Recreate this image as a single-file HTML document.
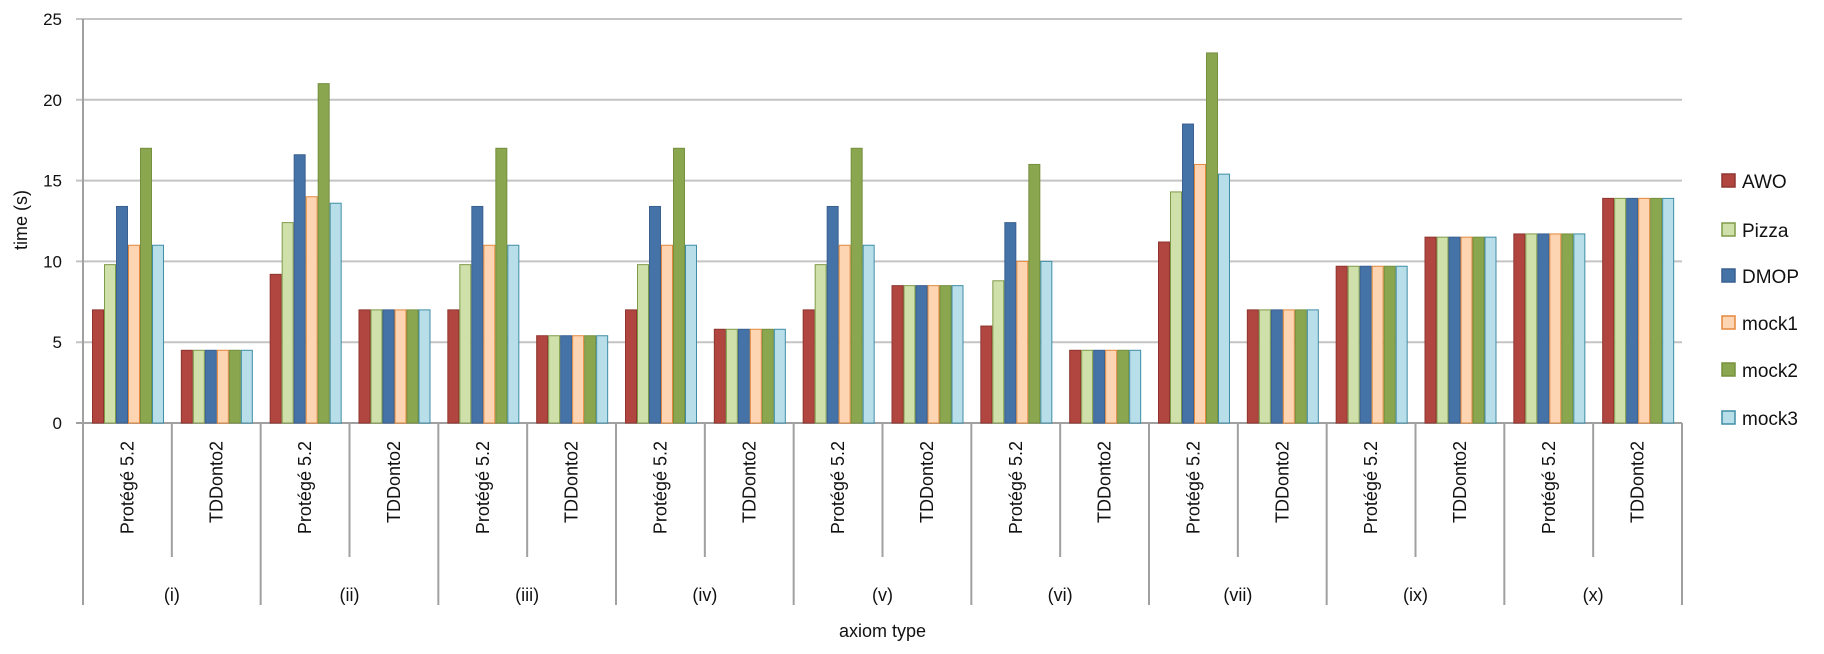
<!DOCTYPE html>
<html><head><meta charset="utf-8"><style>
body{margin:0;background:#fff}
svg text{font-family:"Liberation Sans",sans-serif;fill:#111}
</style></head><body>
<svg id="chart" width="1824" height="649" xmlns="http://www.w3.org/2000/svg"></svg>
<script>
const groups = ["(i)","(ii)","(iii)","(iv)","(v)","(vi)","(vii)","(ix)","(x)"];
const tools = ["Protégé 5.2","TDDonto2"];
const seriesNames = ["AWO","Pizza","DMOP","mock1","mock2","mock3"];
const awo   = [7,4.5, 9.2,7, 7,5.4, 7,5.8, 7,8.5, 6,4.5, 11.2,7, 9.7,11.5, 11.7,13.9];
const pizza = [9.8,4.5, 12.4,7, 9.8,5.4, 9.8,5.8, 9.8,8.5, 8.8,4.5, 14.3,7, 9.7,11.5, 11.7,13.9];
const dmop  = [13.4,4.5, 16.6,7, 13.4,5.4, 13.4,5.8, 13.4,8.5, 12.4,4.5, 18.5,7, 9.7,11.5, 11.7,13.9];
const mock1 = [11,4.5, 14,7, 11,5.4, 11,5.8, 11,8.5, 10,4.5, 16,7, 9.7,11.5, 11.7,13.9];
const mock2 = [17,4.5, 21,7, 17,5.4, 17,5.8, 17,8.5, 16,4.5, 22.9,7, 9.7,11.5, 11.7,13.9];
const mock3 = [11,4.5, 13.6,7, 11,5.4, 11,5.8, 11,8.5, 10,4.5, 15.4,7, 9.7,11.5, 11.7,13.9];
const yTicks = [0,5,10,15,20,25];

const series=[awo,pizza,dmop,mock1,mock2,mock3];
const fills=["#b0463f","#cfe0aa","#4572a7","#fdd5b2","#8aa64f","#b8dee9"];
const strokes=["#8f3530","#7f9a48","#3a6190","#e3883c","#76903f","#3f8ea6"];
const svg=document.getElementById('chart');
const NS="http://www.w3.org/2000/svg";
const X0=83,X1=1682,Y0=423,Y25=19,yMax=25;
const y=v=>Y0-(v/yMax)*(Y0-Y25);
const nSub=groups.length*tools.length;
const subW=(X1-X0)/nSub;
const x=i=>X0+i*subW;
function el(t,a,txt){const e=document.createElementNS(NS,t);for(const k in a)e.setAttribute(k,a[k]);if(txt!==undefined)e.textContent=txt;svg.appendChild(e);return e;}

yTicks.forEach(t=>{
  const g=el('line',{x1:76,x2:X1,y1:y(t),y2:y(t),stroke:t===0?'#a0a0a0':'#c4c4c4','stroke-width':2});
  
  
  const l=el('text',{x:62,y:y(t)+6,'text-anchor':'end','font-size':17},String(t));
  
  
});
const ax=el('line',{x1:X0,x2:X0,y1:Y25,y2:605,stroke:'#a0a0a0','stroke-width':2});



const bw=12,off=9;
series.forEach((s,si)=>{
  s.forEach((v,i)=>{
    const r=el('rect',{x:x(i)+off+si*bw+0.5,y:y(v),width:bw-1,height:Y0-y(v),fill:fills[si],stroke:strokes[si],'stroke-width':1});
    
    
  });
});

for(let i=1;i<=nSub;i++){
  const isGroup=i%2===0;
  const ln=el('line',{x1:x(i),x2:x(i),y1:Y0,y2:isGroup?605:557,stroke:'#a0a0a0','stroke-width':2});
  
  
}
for(let i=0;i<nSub;i++){
  const cx=x(i)+subW/2+6;
  const t=el('text',{x:0,y:0,'text-anchor':'end','font-size':18,transform:`translate(${cx},441) rotate(-90)`},tools[i%2]);
  
  
}
groups.forEach((g,gi)=>{
  const t=el('text',{x:x(gi*2)+subW,y:601,'text-anchor':'middle','font-size':18},g);
  
  
});
const xt=el('text',{x:(X0+X1)/2,y:637,'text-anchor':'middle','font-size':18},'axiom type');


const yt=el('text',{x:0,y:0,'text-anchor':'middle','font-size':18,transform:'translate(27,220) rotate(-90)'},'time (s)');



const legY=[188,237,283,330,377,425];
seriesNames.forEach((n,si)=>{
  const r=el('rect',{x:1722,y:legY[si]-14,width:13,height:13,fill:fills[si],stroke:strokes[si],'stroke-width':1.5});
  
  
  const t=el('text',{x:1742,y:legY[si],'font-size':19},n);
  
  
});
</script>
</body></html>
